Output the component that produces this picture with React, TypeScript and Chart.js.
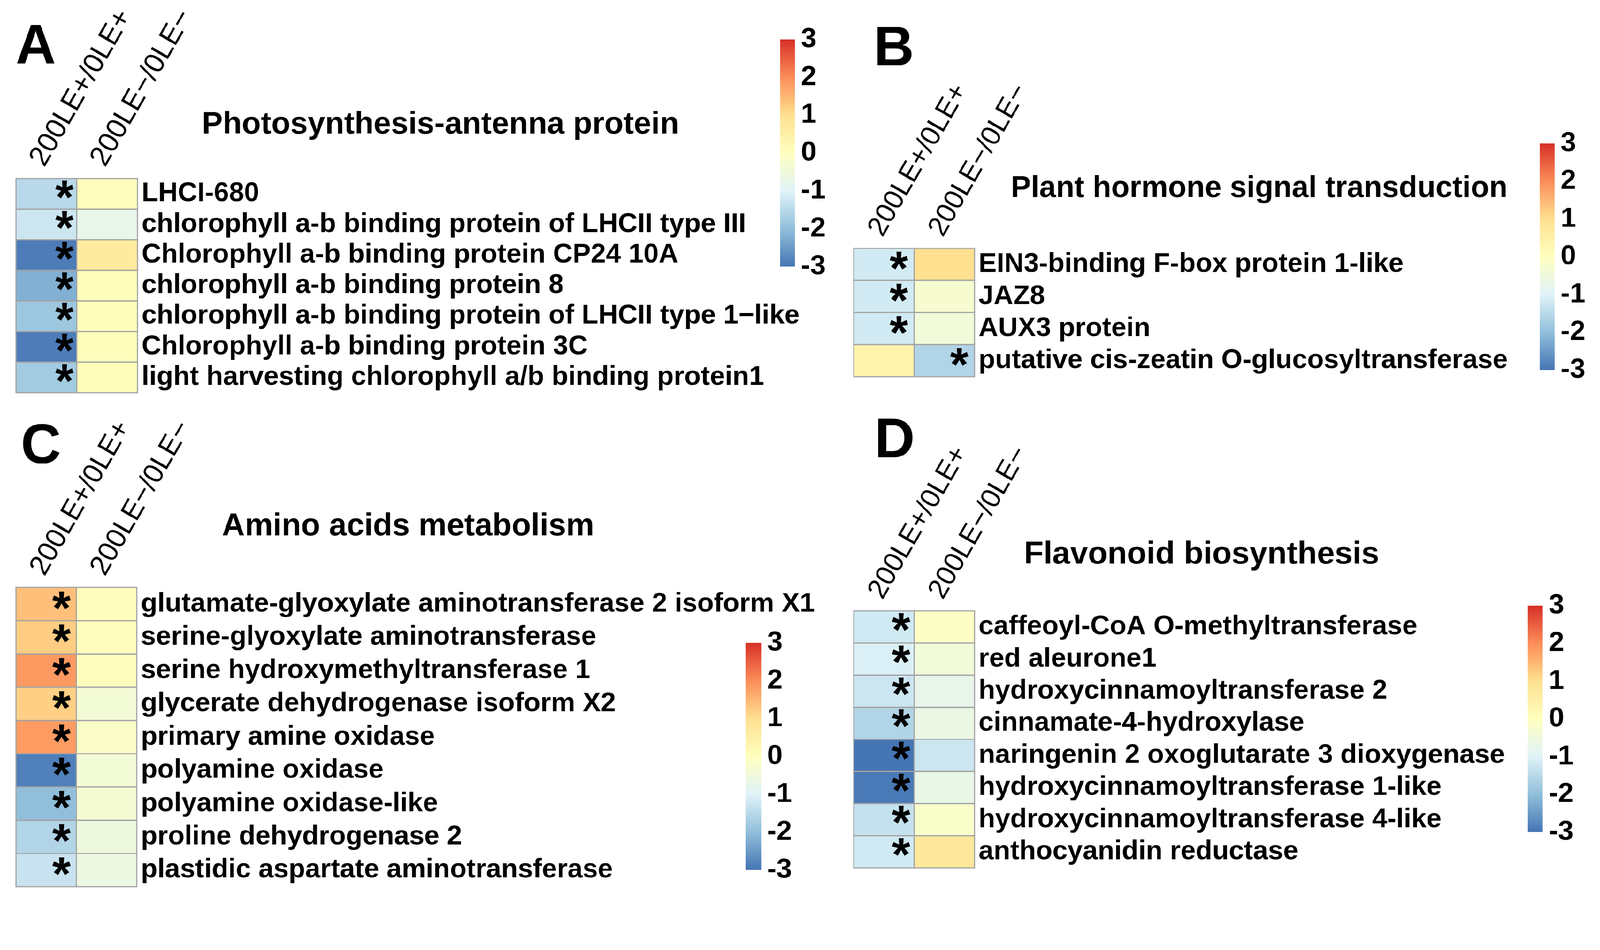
import React, { useEffect, useRef } from 'react';
import { Chart, registerables } from 'chart.js';

Chart.register(...registerables);

const FONT = "'Liberation Sans', Arial, Helvetica, sans-serif";
const PAGE_W = 4305;
const PAGE_H = 2431;

// ---------------- data ----------------
const COLS = ['200LE+/0LE+', '200LE\u2212/0LE\u2212'];

const GENES_A = [
  'LHCI-680',
  'chlorophyll a-b binding protein of LHCII type III',
  'Chlorophyll a-b binding protein CP24 10A',
  'chlorophyll a-b binding protein 8',
  'chlorophyll a-b binding protein of LHCII type 1\u2212like',
  'Chlorophyll a-b binding protein 3C',
  'light harvesting chlorophyll a/b binding protein1',
];
const A_COL1 = [-1.5, -1.25, -2.9, -2.2, -1.85, -2.9, -1.78];
const A_COL2 = [0.05, -0.75, 0.65, 0.08, 0.08, 0.08, 0.08];
const A_SIG1 = [true, true, true, true, true, true, true];
const A_SIG2 = [false, false, false, false, false, false, false];

const GENES_B = [
  'EIN3-binding F-box protein 1-like',
  'JAZ8',
  'AUX3 protein',
  'putative cis-zeatin O-glucosyltransferase',
];
const B_COL1 = [-1.18, -1.18, -1.18, 0.4];
const B_COL2 = [1.0, -0.3, -0.45, -1.6];
const B_SIG1 = [true, true, true, false];
const B_SIG2 = [false, false, false, true];

const GENES_C = [
  'glutamate-glyoxylate aminotransferase 2 isoform X1',
  'serine-glyoxylate aminotransferase',
  'serine hydroxymethyltransferase 1',
  'glycerate dehydrogenase isoform X2',
  'primary amine oxidase',
  'polyamine oxidase',
  'polyamine oxidase-like',
  'proline dehydrogenase 2',
  'plastidic aspartate aminotransferase',
];
const C_COL1 = [1.4, 1.24, 1.86, 1.2, 1.82, -2.85, -2.0, -1.6, -1.3];
const C_COL2 = [0.05, 0.05, 0.05, -0.4, -0.15, -0.4, -0.35, -0.55, -0.6];
const C_SIG1 = [true, true, true, true, true, true, true, true, true];
const C_SIG2 = [false, false, false, false, false, false, false, false, false];

const GENES_D = [
  'caffeoyl-CoA O-methyltransferase',
  'red aleurone1',
  'hydroxycinnamoyltransferase 2',
  'cinnamate-4-hydroxylase',
  'naringenin 2 oxoglutarate 3 dioxygenase',
  'hydroxycinnamoyltransferase 1-like',
  'hydroxycinnamoyltransferase 4-like',
  'anthocyanidin reductase',
];
const D_COL1 = [-1.2, -1.06, -1.25, -1.6, -3.0, -2.95, -1.35, -1.2];
const D_COL2 = [-0.1, -0.45, -0.75, -0.65, -1.25, -0.7, -0.2, 0.75];
const D_SIG1 = [true, true, true, true, true, true, true, true];
const D_SIG2 = [false, false, false, false, false, false, false, false];

const TITLES = [
  'Photosynthesis-antenna protein',
  'Plant hormone signal transduction',
  'Amino acids metabolism',
  'Flavonoid biosynthesis',
];
const LETTERS = ['A', 'B', 'C', 'D'];

const SCALE_MIN = -3;
const SCALE_MAX = 3;
const SCALE_TICKS = [-3, -2, -1, 0, 1, 2, 3];

// RdYlBu (reversed), as used by pheatmap by default
const RAMP = ['#4575B4', '#91BFDB', '#E0F3F8', '#FFFFBF', '#FEE090', '#FC8D59', '#D73027'];

// ---------------- helpers ----------------
function hexToRgb(h: string) {
  const n = parseInt(h.slice(1), 16);
  return [(n >> 16) & 255, (n >> 8) & 255, n & 255];
}
function colorFor(v: number) {
  const c = Math.max(SCALE_MIN, Math.min(SCALE_MAX, v));
  const t = ((c - SCALE_MIN) / (SCALE_MAX - SCALE_MIN)) * (RAMP.length - 1);
  const i = Math.min(RAMP.length - 2, Math.floor(t));
  const f = t - i;
  const a = hexToRgb(RAMP[i]);
  const b = hexToRgb(RAMP[i + 1]);
  const m = a.map((x, k) => Math.round(x + (b[k] - x) * f));
  return `rgb(${m[0]},${m[1]},${m[2]})`;
}

// ---------------- layout (positions / sizes) ----------------
type PanelCfg = {
  genes: string[];
  cols: number[][];
  sig: boolean[][];
  title: string;
  letter: string;
  left: number; top: number; w: number; h: number;
  area: { l: number; t: number; r: number; b: number };
  letterPos: { x: number; y: number };
  titlePos: { x: number; y: number };
  titleSize: number;
  colFont: number;
  starGap: number;
  starDy: number;
};

const PANELS: PanelCfg[] = [
  {
    genes: GENES_A, cols: [A_COL1, A_COL2], sig: [A_SIG1, A_SIG2], title: TITLES[0], letter: LETTERS[0],
    left: 0, top: 0, w: 2250, h: 1100,
    area: { l: 43, t: 480, r: 370, b: 1056 },
    letterPos: { x: 45, y: 170 }, titlePos: { x: 1185, y: 359 }, titleSize: 84, colFont: 77,
    starGap: 8, starDy: -11,
  },
  {
    genes: GENES_B, cols: [B_COL1, B_COL2], sig: [B_SIG1, B_SIG2], title: TITLES[1], letter: LETTERS[1],
    left: 2250, top: 0, w: 2055, h: 1100,
    area: { l: 47, t: 668, r: 372, b: 1013 },
    letterPos: { x: 111, y: 176 }, titlePos: { x: 1138, y: 530 }, titleSize: 81, colFont: 75,
    starGap: 16, starDy: -10,
  },
  {
    genes: GENES_C, cols: [C_COL1, C_COL2], sig: [C_SIG1, C_SIG2], title: TITLES[2], letter: LETTERS[2],
    left: 0, top: 1100, w: 2250, h: 1331,
    area: { l: 43, t: 480, r: 368, b: 1285 },
    letterPos: { x: 62, y: 146 }, titlePos: { x: 1098, y: 340 }, titleSize: 85, colFont: 76,
    starGap: 15, starDy: -10,
  },
  {
    genes: GENES_D, cols: [D_COL1, D_COL2], sig: [D_SIG1, D_SIG2], title: TITLES[3], letter: LETTERS[3],
    left: 2250, top: 1100, w: 2055, h: 1331,
    area: { l: 47, t: 543, r: 372, b: 1234 },
    letterPos: { x: 113, y: 130 }, titlePos: { x: 983, y: 416 }, titleSize: 86, colFont: 75,
    starGap: 10, starDy: -13,
  },
];

type BarCfg = { left: number; top: number; w: number; h: number; area: { l: number; t: number; r: number; b: number } };
const BARS: BarCfg[] = [
  { left: 2060, top: 40, w: 260, h: 740, area: { l: 39, t: 66, r: 79, b: 677 } },
  { left: 4100, top: 320, w: 205, h: 740, area: { l: 43, t: 66, r: 83, b: 675 } },
  { left: 1970, top: 1660, w: 250, h: 740, area: { l: 36, t: 69, r: 78, b: 680 } },
  { left: 4070, top: 1560, w: 235, h: 740, area: { l: 41, t: 69, r: 81, b: 678 } },
];

// ---------------- plugins ----------------
const cellPlugin = {
  id: 'cells',
  afterDatasetsDraw(chart: any, _args: any, opts: any) {
    const ctx = chart.ctx as CanvasRenderingContext2D;
    const rects: any[] = [];
    chart.data.datasets.forEach((ds: any, di: number) => {
      const meta = chart.getDatasetMeta(di);
      meta.data.forEach((bar: any, i: number) => {
        const p = bar.getProps(['x', 'y', 'base', 'height'], true);
        const l = Math.min(p.x, p.base);
        const r = Math.max(p.x, p.base);
        const t = p.y - p.height / 2;
        const b = p.y + p.height / 2;
        rects.push({ l, r, t, b, sig: ds.data[i].sig });
      });
    });
    ctx.save();
    ctx.strokeStyle = '#a3a3a3';
    ctx.lineWidth = 3;
    rects.forEach((q) => ctx.strokeRect(q.l, q.t, q.r - q.l, q.b - q.t));
    // significance asterisks
    ctx.fillStyle = '#000';
    ctx.textAlign = 'left';
    ctx.textBaseline = 'alphabetic';
    ctx.font = `bold 100px ${FONT}`;
    const m0 = ctx.measureText('*');
    const w0 = m0.actualBoundingBoxLeft + m0.actualBoundingBoxRight;
    const fs = (100 * 50) / (w0 || 33);
    ctx.font = `bold ${fs}px ${FONT}`;
    const m = ctx.measureText('*');
    const gap = opts && opts.gap != null ? opts.gap : 12;
    const dy = opts && opts.dy != null ? opts.dy : -11;
    rects.forEach((q) => {
      if (!q.sig) return;
      const cy = (q.t + q.b) / 2 + dy;
      const y = cy + (m.actualBoundingBoxAscent - m.actualBoundingBoxDescent) / 2;
      const x = q.r - gap - m.actualBoundingBoxRight;
      ctx.fillText('*', x, y);
    });
    ctx.restore();
  },
};

const textPlugin = {
  id: 'panelText',
  afterDraw(chart: any, _args: any, opts: any) {
    const ctx = chart.ctx as CanvasRenderingContext2D;
    ctx.save();
    ctx.fillStyle = '#000';
    ctx.textBaseline = 'alphabetic';
    ctx.font = `bold 150px ${FONT}`;
    ctx.textAlign = 'left';
    const lm = ctx.measureText(opts.letter);
    ctx.fillText(opts.letter, opts.letterPos.x + lm.actualBoundingBoxLeft, opts.letterPos.y);
    ctx.font = `bold ${opts.titleSize}px ${FONT}`;
    ctx.textAlign = 'center';
    ctx.fillText(opts.title, opts.titlePos.x, opts.titlePos.y);
    ctx.restore();
  },
};

// ---------------- components ----------------
function Heatmap({ cfg }: { cfg: PanelCfg }) {
  const ref = useRef<HTMLCanvasElement>(null);
  useEffect(() => {
    const canvas = ref.current!;
    const chart = new Chart(canvas, {
      type: 'bar',
      data: {
        labels: cfg.genes,
        datasets: cfg.cols.map((vals, j) => ({
          label: COLS[j],
          data: vals.map((v, i) => ({ x: [j, j + 1], y: cfg.genes[i], v, sig: cfg.sig[j][i] })) as any,
          backgroundColor: (c: any) => colorFor(c.raw ? c.raw.v : 0),
          borderWidth: 0,
          barPercentage: 1,
          categoryPercentage: 1,
          grouped: false,
        })),
      },
      options: {
        indexAxis: 'y',
        responsive: false,
        animation: false,
        events: [],
        layout: { padding: { left: cfg.area.l, top: 0, right: 0, bottom: cfg.h - cfg.area.b } },
        plugins: {
          legend: { display: false },
          tooltip: { enabled: false },
          cells: { gap: cfg.starGap, dy: cfg.starDy },
          panelText: {
            letter: cfg.letter,
            title: cfg.title,
            letterPos: cfg.letterPos,
            titlePos: cfg.titlePos,
            titleSize: cfg.titleSize,
          },
        } as any,
        scales: {
          x: { type: 'linear', min: 0, max: COLS.length, display: false },
          x2: {
            type: 'category',
            labels: COLS,
            position: 'top',
            offset: true,
            grid: { display: false, drawTicks: false },
            border: { display: false },
            ticks: {
              minRotation: 60,
              maxRotation: 60,
              autoSkip: false,
              labelOffset: 56,
              padding: 16,
              color: '#000',
              font: { family: FONT, size: cfg.colFont },
            },
            afterFit: (s: any) => {
              s.height = cfg.area.t;
              s.paddingLeft = 0;
              s.paddingRight = 0;
            },
          } as any,
          y: {
            type: 'category',
            position: 'right',
            grid: { display: false, drawTicks: false },
            border: { display: false },
            ticks: {
              autoSkip: false,
              padding: 11,
              color: '#000',
              font: { family: FONT, size: 73, weight: 'bold' },
            },
            afterFit: (s: any) => {
              s.width = cfg.w - cfg.area.r;
              s.paddingTop = 0;
              s.paddingBottom = 0;
            },
          } as any,
        },
      } as any,
      plugins: [cellPlugin, textPlugin],
    });
    return () => chart.destroy();
  }, []);
  return (
    <canvas
      ref={ref}
      width={cfg.w}
      height={cfg.h}
      style={{ position: 'absolute', left: cfg.left, top: cfg.top, width: cfg.w, height: cfg.h }}
    />
  );
}

function ColorBar({ cfg }: { cfg: BarCfg }) {
  const ref = useRef<HTMLCanvasElement>(null);
  useEffect(() => {
    const canvas = ref.current!;
    const chart = new Chart(canvas, {
      type: 'bar',
      data: {
        labels: [''],
        datasets: [
          {
            data: [[SCALE_MIN, SCALE_MAX]] as any,
            backgroundColor: (c: any) => {
              const a = c.chart.chartArea;
              if (!a) return RAMP[3];
              const g = c.chart.ctx.createLinearGradient(0, a.bottom, 0, a.top);
              RAMP.forEach((col, i) => g.addColorStop(i / (RAMP.length - 1), col));
              return g;
            },
            borderWidth: 0,
            barPercentage: 1,
            categoryPercentage: 1,
          },
        ],
      },
      options: {
        responsive: false,
        animation: false,
        events: [],
        layout: { padding: { left: cfg.area.l, top: cfg.area.t, right: 0, bottom: cfg.h - cfg.area.b } },
        plugins: { legend: { display: false }, tooltip: { enabled: false } },
        scales: {
          x: { display: false },
          y: {
            position: 'right',
            min: SCALE_MIN,
            max: SCALE_MAX,
            afterBuildTicks: (s: any) => {
              s.ticks = SCALE_TICKS.map((v) => ({ value: v }));
            },
            grid: { display: false, drawTicks: false },
            border: { display: false },
            ticks: {
              autoSkip: false,
              padding: 16,
              color: '#000',
              font: { family: FONT, size: 75, weight: 'bold' },
            },
            afterFit: (s: any) => {
              s.width = cfg.w - cfg.area.r;
              s.paddingTop = 0;
              s.paddingBottom = 0;
            },
          } as any,
        },
      } as any,
    });
    return () => chart.destroy();
  }, []);
  return (
    <canvas
      ref={ref}
      width={cfg.w}
      height={cfg.h}
      style={{ position: 'absolute', left: cfg.left, top: cfg.top, width: cfg.w, height: cfg.h }}
    />
  );
}

function fitScale() {
  if (typeof window === 'undefined') return 1;
  const k = Math.min(window.innerWidth / PAGE_W, window.innerHeight / PAGE_H);
  if (!isFinite(k) || k <= 0.5 || k > 1) return 1;
  return k;
}

export default function App() {
  const k = fitScale();
  return (
    <div
      style={{
        position: 'fixed',
        left: 0,
        top: 0,
        width: PAGE_W,
        height: PAGE_H,
        background: '#fff',
        overflow: 'hidden',
        transform: k !== 1 ? `scale(${k})` : undefined,
        transformOrigin: '0 0',
      }}
    >
      {PANELS.map((p, i) => (
        <Heatmap key={'h' + i} cfg={p} />
      ))}
      {BARS.map((b, i) => (
        <ColorBar key={'c' + i} cfg={b} />
      ))}
    </div>
  );
}
